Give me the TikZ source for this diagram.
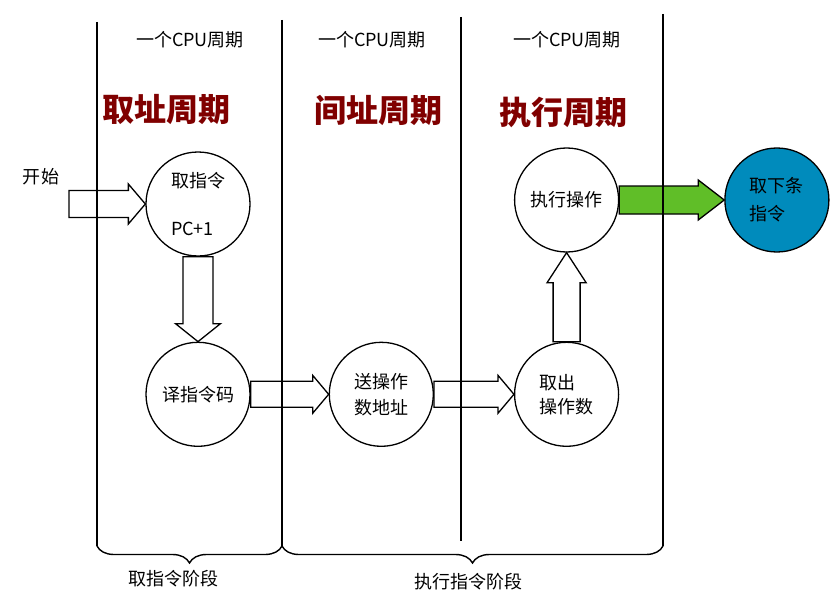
\documentclass[tikz,border=0pt]{standalone}
\usepackage{fontspec}
\setmainfont{Noto Sans CJK SC}
\usetikzlibrary{positioning,calc,decorations.pathreplacing}
\definecolor{phasered}{RGB}{128,0,0}
\definecolor{nextblue}{RGB}{0,139,188}
\definecolor{gogreen}{RGB}{96,190,40}

\begin{document}
\begin{tikzpicture}[
            x=1pt, y=-1pt,
            node distance=85pt,
            stage/.style={circle, draw, line width=1.3pt, minimum size=104pt, inner sep=0pt,
                       align=center, font=\fontsize{18}{22}\selectfont},
            cyclelbl/.style={font=\fontsize{18}{21}\selectfont},
            phase/.style={text=phasered, font=\fontsize{32}{36}\selectfont\bfseries},
            plain/.style={font=\fontsize{18}{22}\selectfont},
            blockarrow/.style n args={3}{draw, line width=1.3pt, line join=miter, to path={
                -- ($(\tikztostart)!#1!90:(\tikztotarget)$)
                -- ($(\tikztotarget)!#3!(\tikztostart)!#1!90:(\tikztotarget)$)
                -- ($(\tikztotarget)!#3!(\tikztostart)!#2!90:(\tikztotarget)$)
                -- (\tikztotarget)
                -- ($(\tikztotarget)!#3!(\tikztostart)!#2!-90:(\tikztotarget)$)
                -- ($(\tikztotarget)!#3!(\tikztostart)!#1!-90:(\tikztotarget)$)
                -- ($(\tikztostart)!#1!-90:(\tikztotarget)$)
                -- cycle}},
            lane/.style={line width=1.4pt},
            phasebrace/.style={decorate, decoration={brace, mirror, amplitude=17pt}, line width=1.4pt}
        ]
            \useasboundingbox (0,0) rectangle (840,599);

            % Cycle labels and titles
            \node[cyclelbl] (cyc1) at (190,40) {一个CPU周期};
            \node[cyclelbl] (cyc2) at (372,40) {一个CPU周期};
            \node[cyclelbl] (cyc3) at (567,40) {一个CPU周期};
            \node[phase] (fetchcyc) at (166,110) {取址周期};
            \node[phase] (indcyc) at (378,110) {间址周期};
            \node[phase] (execcyc) at (563,112) {执行周期};

            % Stages
            \node[stage, align=left] (fetch) at (198,204) {取指令\\[26pt]PC+1};
            \node[stage, below=of fetch] (decode) {译指令码};
            \node[stage, right=78pt of decode] (addr) {送操作\\[4pt]数地址};
            \node[stage, right=80pt of addr, align=left] (operand) {取出\\[2pt]操作数};
            \node[stage, above=89pt of operand] (exec) {执行操作};
            \node[stage, right=105pt of exec, fill=nextblue, align=left] (next) {取下条\\[6pt]指令};

            % Start
            \node[plain] (startlbl) at (41,177) {开始};
            \coordinate (begin) at (69,204);

            % Block arrows
            \draw[blockarrow={13.5pt}{20pt}{17pt}] (begin) to (fetch.west);
            \draw[blockarrow={15pt}{22.5pt}{18pt}] (fetch.south) to (decode.north);
            \draw[blockarrow={13pt}{19pt}{16pt}] (decode.east) to (addr.west);
            \draw[blockarrow={13pt}{19pt}{16pt}] (addr.east) to (operand.west);
            \draw[blockarrow={13.5pt}{19.5pt}{30pt}] (operand.north) to (exec.south);
            \draw[blockarrow={14pt}{20pt}{26pt}, fill=gogreen] (exec.east) to (next.west);

            % Lanes
            \draw[lane] (97,22) -- (97,546);
            \draw[lane] (282,20) -- (282,546);
            \draw[lane] (461,17) -- (461,541);
            \draw[lane] (663,14) -- (663,546);

            % Braces
            \draw[phasebrace] (97,546) -- (282,546);
            \draw[phasebrace] (282,546) -- (663,546);
            \node[plain] (fetchphase) at (173,579) {取指令阶段};
            \node[plain] (execphase) at (468,582) {执行指令阶段};
        \end{tikzpicture}
\end{document}
